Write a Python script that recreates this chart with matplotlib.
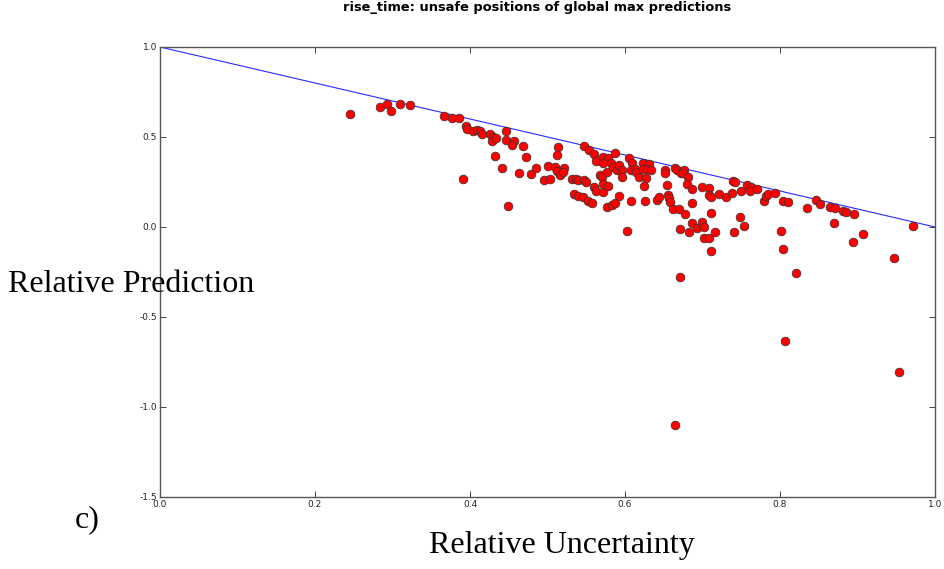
import matplotlib
matplotlib.use("Agg")
import matplotlib.pyplot as plt

# ---- data ----
rel_uncertainty = [
    0.245, 0.284, 0.293, 0.298, 0.310, 0.322, 0.366, 0.377, 0.386, 0.395,
    0.396, 0.404, 0.409, 0.413, 0.415, 0.391, 0.426, 0.430, 0.428, 0.434,
    0.446, 0.446, 0.457, 0.454, 0.468, 0.472, 0.432, 0.441, 0.463, 0.479,
    0.485, 0.495, 0.503, 0.501, 0.510, 0.512, 0.516, 0.521, 0.520, 0.514,
    0.512, 0.449, 0.532, 0.537, 0.539, 0.547, 0.550, 0.534, 0.539, 0.546,
    0.552, 0.557, 0.547, 0.554, 0.560, 0.563, 0.572, 0.578, 0.572, 0.568,
    0.570, 0.577, 0.560, 0.563, 0.572, 0.572, 0.578, 0.577, 0.583, 0.587,
    0.592, 0.587, 0.582, 0.585, 0.590, 0.592, 0.596, 0.596, 0.603, 0.605,
    0.609, 0.608, 0.613, 0.614, 0.618, 0.608, 0.623, 0.631, 0.623, 0.628,
    0.634, 0.627, 0.625, 0.626, 0.641, 0.644, 0.652, 0.652, 0.654, 0.655,
    0.657, 0.658, 0.662, 0.670, 0.677, 0.665, 0.667, 0.672, 0.676, 0.675,
    0.681, 0.680, 0.686, 0.671, 0.683, 0.671, 0.686, 0.699, 0.708, 0.708,
    0.711, 0.721, 0.730, 0.738, 0.739, 0.742, 0.750, 0.757, 0.763, 0.761,
    0.770, 0.711, 0.748, 0.754, 0.686, 0.693, 0.699, 0.702, 0.702, 0.708,
    0.711, 0.716, 0.741, 0.779, 0.782, 0.785, 0.794, 0.804, 0.810, 0.801,
    0.804, 0.821, 0.835, 0.846, 0.852, 0.865, 0.871, 0.881, 0.885, 0.895,
    0.870, 0.907, 0.894, 0.947, 0.972, 0.806, 0.953, 0.664,
]
rel_prediction = [
    0.628, 0.667, 0.681, 0.642, 0.681, 0.678, 0.617, 0.606, 0.606, 0.561,
    0.544, 0.533, 0.539, 0.533, 0.514, 0.267, 0.517, 0.500, 0.478, 0.494,
    0.533, 0.483, 0.478, 0.456, 0.450, 0.389, 0.394, 0.328, 0.300, 0.294,
    0.328, 0.261, 0.267, 0.339, 0.333, 0.311, 0.289, 0.328, 0.306, 0.444,
    0.400, 0.117, 0.267, 0.267, 0.261, 0.261, 0.250, 0.183, 0.172, 0.167,
    0.144, 0.133, 0.450, 0.428, 0.406, 0.367, 0.389, 0.383, 0.356, 0.289,
    0.278, 0.306, 0.222, 0.200, 0.194, 0.239, 0.228, 0.111, 0.122, 0.133,
    0.172, 0.411, 0.356, 0.333, 0.317, 0.344, 0.317, 0.278, -0.022, 0.383,
    0.356, 0.317, 0.322, 0.306, 0.278, 0.144, 0.356, 0.350, 0.322, 0.322,
    0.317, 0.272, 0.228, 0.144, 0.150, 0.167, 0.317, 0.300, 0.233, 0.178,
    0.161, 0.139, 0.100, 0.100, 0.072, 0.328, 0.317, 0.300, 0.314, 0.300,
    0.278, 0.239, 0.211, -0.011, -0.028, -0.278, 0.131, 0.222, 0.217, 0.178,
    0.169, 0.183, 0.167, 0.189, 0.256, 0.250, 0.200, 0.233, 0.222, 0.200,
    0.211, 0.078, 0.056, 0.006, 0.022, -0.006, 0.028, 0.000, -0.061, -0.061,
    -0.133, -0.028, -0.028, 0.144, 0.172, 0.183, 0.189, 0.144, 0.139, -0.022,
    -0.125, -0.256, 0.106, 0.150, 0.128, 0.111, 0.106, 0.089, 0.083, 0.072,
    0.022, -0.039, -0.083, -0.172, 0.006, -0.635, -0.807, -1.100,
]
# safety boundary line: prediction = 1 - uncertainty
boundary_x = [0.0, 1.0]
boundary_y = [1.0, 0.0]

x_ticks = [0.0, 0.2, 0.4, 0.6, 0.8, 1.0]
y_ticks = [-1.5, -1.0, -0.5, 0.0, 0.5, 1.0]

title = "rise_time: unsafe positions of global max predictions"

# ---- figure ----
W, H = 945, 569
fig = plt.figure(figsize=(W / 100, H / 100), dpi=100)
ax = fig.add_axes([160 / W, 1 - 497 / H, 775 / W, 450 / H])

ax.plot(boundary_x, boundary_y, color="#2a2aff", linewidth=0.8, zorder=2)
ax.plot(rel_uncertainty, rel_prediction, linestyle="none", marker="o",
        markersize=6.3, markerfacecolor="red", markeredgecolor="#333333",
        markeredgewidth=0.5, zorder=3)

ax.set_xlim(0.0, 1.0)
ax.set_ylim(-1.5, 1.0)
ax.set_xticks(x_ticks)
ax.set_yticks(y_ticks)
ax.set_xticklabels([f"{v:.1f}" for v in x_ticks])
ax.set_yticklabels([f"{v:.1f}" for v in y_ticks])
ax.tick_params(direction="in", length=4, width=0.6, top=True, right=True,
               labelsize=6.5, pad=2, colors="#222222")
for sp in ax.spines.values():
    sp.set_color("#555555")
    sp.set_linewidth(1.0)

fig.text(537 / W, 1 - 8 / H, title, ha="center", va="center",
         fontsize=9.4, fontweight="bold", family="DejaVu Sans")

serif = ["Liberation Serif", "DejaVu Serif"]
fig.text(8 / W, 1 - 284 / H, "Relative Prediction", ha="left", va="center",
         fontsize=23, family=serif)
fig.text(562 / W, 1 - 546 / H, "Relative Uncertainty", ha="center",
         va="center", fontsize=23, family=serif)
fig.text(75 / W, 1 - 520 / H, "c)", ha="left", va="center",
         fontsize=23, family=serif)

fig.savefig("out.png", dpi=100, facecolor="white")
